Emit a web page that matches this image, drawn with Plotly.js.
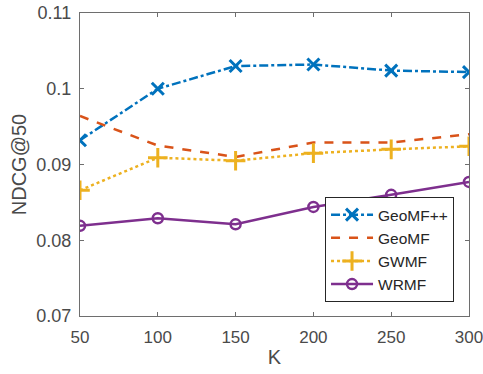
<!DOCTYPE html>
<html>
<head>
<meta charset="utf-8">
<script src="https://cdn.plot.ly/plotly-3.0.1.min.js"></script>
<style>html,body{margin:0;padding:0;background:#fff;}#chart{width:483px;height:374px;}</style>
</head>
<body>
<div id="chart"></div>
<script>
const K = [50, 100, 150, 200, 250, 300];
const geomfpp = [0.0932, 0.1000, 0.1030, 0.1032, 0.1024, 0.1022];
const geomf   = [0.0964, 0.0925, 0.0910, 0.0929, 0.0929, 0.0940];
const gwmf    = [0.0866, 0.0909, 0.0905, 0.0915, 0.0920, 0.0924];
const wrmf    = [0.0819, 0.0829, 0.0821, 0.0844, 0.0860, 0.0877];
const yTicks = [0.07, 0.08, 0.09, 0.1, 0.11];
const yTickText = ['0.07', '0.08', '0.09', '0.1', '0.11'];
const xTicks = [50, 100, 150, 200, 250, 300];

const traces = [
  {x: K, y: geomfpp, name: 'GeoMF++', mode: 'lines+markers',
   line: {color: '#0072BD', width: 2.5, dash: 'dashdot'},
   marker: {symbol: 'x-thin', size: 12, line: {color: '#0072BD', width: 3}}},
  {x: K, y: geomf, name: 'GeoMF', mode: 'lines',
   line: {color: '#D95319', width: 2.5, dash: 'dash'}},
  {x: K, y: gwmf, name: 'GWMF', mode: 'lines+markers',
   line: {color: '#EDB120', width: 2.5, dash: 'dot'},
   marker: {symbol: 'cross-thin', size: 14, line: {color: '#EDB120', width: 3}}},
  {x: K, y: wrmf, name: 'WRMF', mode: 'lines+markers',
   line: {color: '#7E2F8E', width: 2.5},
   marker: {symbol: 'circle-open', size: 10, line: {color: '#7E2F8E', width: 2.5}}}
];

const FONT = 'Liberation Sans, Arial, sans-serif';
const axisCommon = {
  showgrid: false, zeroline: false, showline: true, mirror: 'ticks',
  linecolor: '#6e6e6e', linewidth: 1.2, ticks: 'inside', ticklen: 4,
  tickcolor: '#6e6e6e', tickwidth: 1, ticklabeloverflow: 'allow',
  tickfont: {family: FONT, size: 18, color: '#4a4a4a'}
};

const layout = {
  width: 483, height: 374,
  margin: {l: 80, r: 14, t: 13, b: 58},
  paper_bgcolor: '#fff', plot_bgcolor: '#fff',
  showlegend: true,
  xaxis: Object.assign({}, axisCommon, {
    range: [50, 300], tickvals: xTicks, ticklabelstandoff: 5,
    tickfont: {family: FONT, size: 17, color: '#4a4a4a'},
    title: {text: 'K', font: {family: FONT, size: 20, color: '#4a4a4a'}, standoff: 4}
  }),
  yaxis: Object.assign({}, axisCommon, {
    range: [0.07, 0.11], tickvals: yTicks, ticktext: yTickText, ticklabelstandoff: 4,
    title: {text: 'NDCG@50', font: {family: FONT, size: 20, color: '#4a4a4a'}, standoff: 4}
  }),
  legend: {
    x: 0.9615, y: 0.046, xanchor: 'right', yanchor: 'bottom',
    bgcolor: '#fff', bordercolor: '#262626', borderwidth: 1,
    font: {family: FONT, size: 15.5, color: '#262626'},
    tracegroupgap: 0, itemwidth: 42
  }
};

Plotly.newPlot('chart', traces, layout, {displayModeBar: false, staticPlot: true});
</script>
</body>
</html>
